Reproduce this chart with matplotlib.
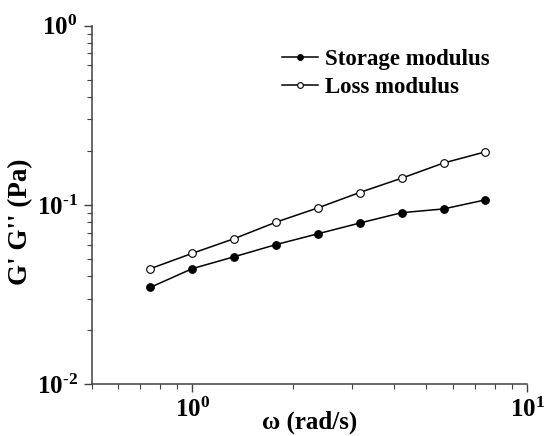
import math
import matplotlib
matplotlib.use("Agg")
import matplotlib.pyplot as plt
from matplotlib.ticker import LogLocator, FuncFormatter, NullFormatter

# frequency (rad/s)
omega = [0.75, 1.0, 1.33, 1.78, 2.37, 3.16, 4.22, 5.63, 7.5]
# storage modulus G' (Pa)
storage = [0.0347, 0.0441, 0.0513, 0.0601, 0.0690, 0.0792, 0.0905, 0.0950, 0.1067]
# loss modulus G'' (Pa)
loss = [0.0441, 0.0537, 0.0647, 0.0802, 0.0962, 0.1173, 0.141, 0.1714, 0.1977]

plt.rcParams['font.family'] = ['Liberation Serif', 'DejaVu Serif']
plt.rcParams['font.weight'] = 'bold'
plt.rcParams['mathtext.fontset'] = 'custom'
plt.rcParams['mathtext.rm'] = 'Liberation Serif:bold'
plt.rcParams['mathtext.bf'] = 'Liberation Serif:bold'
plt.rcParams['mathtext.it'] = 'Liberation Serif:bold'

fig = plt.figure(figsize=(5.48, 4.36), dpi=100)
ax = fig.add_axes([0.167, 0.119, 0.795, 0.822])

ax.plot(omega, storage, '-o', color='black', lw=1.1, ms=5.5,
        mfc='black', mec='black', mew=0.8, label='Storage modulus')
ax.plot(omega, loss, '-o', color='black', lw=1.1, ms=5.5,
        mfc='white', mec='black', mew=0.8, label='Loss modulus')

ax.set_xscale('log')
ax.set_yscale('log')
ax.set_xlim(0.5, 10)
ax.set_ylim(0.01, 1)

def powfmt(v, pos):
    e = int(round(math.log10(v)))
    return r'$\mathbf{10}^{\text{%d}}$' % e

ax.xaxis.set_major_locator(LogLocator(base=10))
ax.yaxis.set_major_locator(LogLocator(base=10))
ax.xaxis.set_minor_locator(LogLocator(base=10, subs=range(2, 10)))
ax.yaxis.set_minor_locator(LogLocator(base=10, subs=range(2, 10)))
ax.xaxis.set_major_formatter(FuncFormatter(powfmt))
ax.yaxis.set_major_formatter(FuncFormatter(powfmt))
ax.xaxis.set_minor_formatter(NullFormatter())
ax.yaxis.set_minor_formatter(NullFormatter())

for s in ['top', 'right']:
    ax.spines[s].set_visible(False)
for s in ['left', 'bottom']:
    ax.spines[s].set_color('#404040')
    ax.spines[s].set_linewidth(1.1)

ax.tick_params(which='major', direction='out', length=6, width=1.0,
               color='#404040', labelsize=18, pad=4)
ax.tick_params(which='minor', direction='out', length=3.5, width=0.8,
               color='#404040')

ax.set_xlabel('ω (rad/s)', fontsize=18, fontweight='bold')
ax.set_ylabel("G' G'' (Pa)", fontsize=19.5, fontweight='bold')
ax.xaxis.set_label_coords(0.5, -0.075)
ax.yaxis.set_label_coords(-0.135, 0.453)

ax.legend(loc='upper left', bbox_to_anchor=(0.437, 0.935), frameon=False,
          borderaxespad=0, borderpad=0, fontsize=16.5, handlelength=1.57,
          handletextpad=0.3, labelspacing=0.3, markerscale=0.75)

fig.savefig('out.png', dpi=100)
